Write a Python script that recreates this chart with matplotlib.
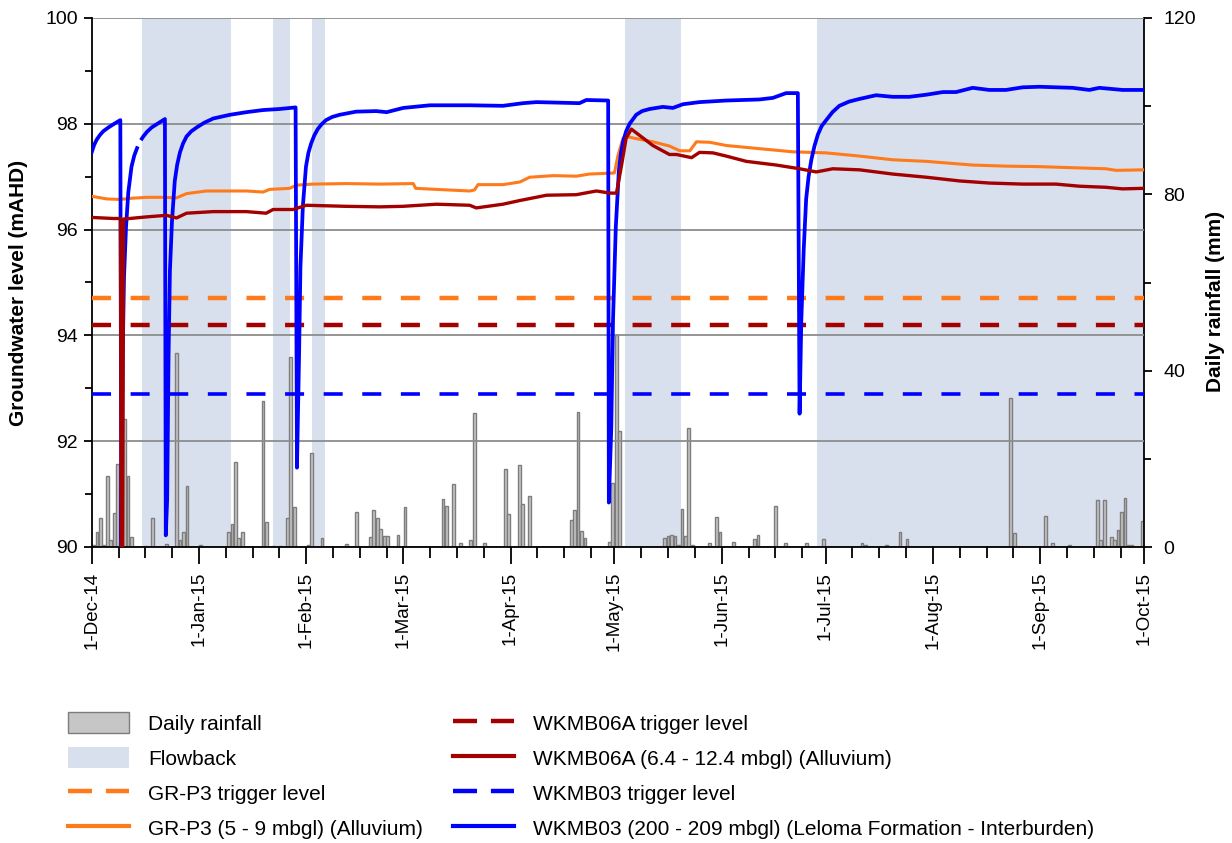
import numpy as np
import pandas as pd
import matplotlib
matplotlib.use("Agg")
import matplotlib.pyplot as plt
import matplotlib.dates as mdates
from matplotlib.ticker import MultipleLocator, FixedLocator
from matplotlib.patches import Patch
from matplotlib.lines import Line2D

plt.rcParams["font.family"] = ["Liberation Sans", "DejaVu Sans"]
plt.rcParams["lines.scale_dashes"] = False

# ---------------------------------------------------------------- data
start = pd.Timestamp("2014-12-01")
end = pd.Timestamp("2015-10-01")

month_starts = pd.date_range(start, end, freq="MS")
month_labels = ["1-Dec-14", "1-Jan-15", "1-Feb-15", "1-Mar-15", "1-Apr-15", "1-May-15",
                "1-Jun-15", "1-Jul-15", "1-Aug-15", "1-Sep-15", "1-Oct-15"]

# daily rainfall (day number from 1-Dec-14, mm)
rain_day = [0, 1, 2, 3, 4, 5, 6, 7, 8, 9, 10, 11,
            15, 17, 21, 24, 25, 26, 27, 31,
            39, 40, 41, 42, 43,
            49, 50, 52, 54, 56, 57, 58,
            62, 63, 66, 73, 76, 80, 81, 82, 83, 84, 85, 88, 90,
            101, 102, 104, 106, 109, 110, 113,
            119, 120, 123, 124, 126,
            138, 139, 140, 141, 142,
            149, 150, 151, 152,
            165, 166, 167, 168, 169, 170, 171, 172, 173,
            178, 180, 181, 185, 191, 192, 197, 200, 206, 211,
            222, 223, 229, 233, 235,
            265, 266, 275, 277, 282,
            290, 291, 292, 294, 295, 296, 297, 298, 299, 300, 303]
rain_mm = [0.4, 3.3, 6.5, 0.5, 16.0, 1.6, 7.7, 18.8, 20.0, 29.1, 16.2, 2.3,
           0.3, 6.5, 0.7, 43.9, 1.6, 3.3, 13.9, 0.5,
           3.3, 5.2, 19.2, 2.0, 3.3,
           33.2, 5.6, 0.2, 0.2, 6.5, 43.1, 9.0,
           0.5, 21.4, 2.1, 0.7, 8.0, 2.3, 8.5, 6.5, 4.0, 2.4, 2.6, 2.8, 9.1,
           11.0, 9.3, 14.2, 0.8, 1.6, 30.4, 0.8,
           17.6, 7.5, 18.7, 9.8, 11.5,
           6.1, 8.3, 30.7, 3.7, 2.0,
           1.2, 14.6, 48.0, 26.3,
           2.0, 2.4, 2.8, 2.5, 0.4, 8.7, 2.4, 27.0, 0.4,
           0.9, 6.7, 3.3, 1.1, 1.8, 2.8, 9.3, 0.8, 0.8, 1.8,
           1.0, 0.4, 0.4, 3.3, 1.8,
           33.8, 3.2, 7.0, 0.8, 0.5,
           10.7, 1.5, 10.7, 2.3, 1.5, 3.9, 7.9, 11.1, 0.5, 0.5, 6.0]

# flowback periods (day number from 1-Dec-14)
flowback_start = [14.4, 52.3, 63.5, 154.2, 209.4]
flowback_end = [40.1, 57.2, 67.4, 170.1, 304.0]

# trigger levels (mAHD)
grp3_trigger = 94.7
wkmb06a_trigger = 94.2
wkmb03_trigger = 92.9

# GR-P3 (5 - 9 mbgl) (Alluvium)
grp3_day = [0, 4.3, 8.2, 11.0, 15.8, 20.6, 24.5, 27.4, 33.1, 39.9, 44.7, 49.5, 51.4,
            57.2, 59.1, 63.9, 73.5, 83.2, 92.9, 93.6, 99.6, 109.2, 110.6, 111.6, 118.8,
            123.7, 126.5, 133.3, 140.0, 143.8, 151.0, 152.0, 153.5, 154.4, 157.3, 162.1,
            166.9, 169.9, 172.8, 174.7, 178.6, 183.3, 192.9, 202.6, 212.2, 221.8, 231.4,
            241.1, 250.7, 254.5, 264.1, 273.8, 283.4, 293.0, 295.9, 304.0]
grp3_level = [96.63, 96.58, 96.57, 96.59, 96.61, 96.61, 96.60, 96.68, 96.73, 96.73, 96.73,
              96.71, 96.76, 96.78, 96.84, 96.86, 96.87, 96.86, 96.87, 96.78, 96.76, 96.73,
              96.75, 96.85, 96.85, 96.90, 96.99, 97.02, 97.01, 97.05, 97.07, 97.39, 97.73,
              97.76, 97.72, 97.66, 97.58, 97.49, 97.49, 97.66, 97.65, 97.59, 97.53, 97.47,
              97.45, 97.39, 97.32, 97.29, 97.24, 97.22, 97.20, 97.19, 97.17, 97.15, 97.12,
              97.13]

# WKMB06A (6.4 - 12.4 mbgl) (Alluvium)
wkmb06a_day = [0, 6.3, 8.3, 8.55, 8.95, 9.2, 11.0, 15.8, 21.6, 24.5, 27.4, 35.1, 44.7,
               50.4, 52.4, 58.2, 62.0, 73.5, 83.2, 89.9, 99.6, 109.2, 111.1, 118.8, 123.7,
               131.4, 140.0, 145.8, 149.7, 151.6, 153.0, 154.4, 155.9, 157.3, 162.1, 166.9,
               168.9, 173.3, 175.6, 179.5, 183.3, 189.1, 197.8, 204.5, 209.3, 214.1, 221.8,
               231.4, 241.1, 250.7, 259.3, 269.0, 278.6, 285.4, 293.0, 297.8, 304.0]
wkmb06a_level = [96.23, 96.21, 96.21, 90.0, 90.0, 96.20, 96.21, 96.24, 96.27, 96.22, 96.31,
                 96.34, 96.34, 96.31, 96.38, 96.38, 96.46, 96.44, 96.43, 96.44, 96.48, 96.46,
                 96.41, 96.48, 96.55, 96.65, 96.66, 96.73, 96.69, 96.69, 97.19, 97.73, 97.90,
                 97.83, 97.59, 97.42, 97.42, 97.36, 97.46, 97.45, 97.39, 97.29, 97.22, 97.15,
                 97.09, 97.15, 97.13, 97.05, 96.99, 96.92, 96.88, 96.86, 96.86, 96.82, 96.80,
                 96.77, 96.78]

# WKMB03 (200 - 209 mbgl) (Leloma Formation - Interburden)
wkmb03_day = [0, 0.7, 1.44, 2.4, 3.36, 4.8, 6.25, 8.27, 8.56, 8.95, 9.33, 9.91, 10.58, 11.5,
              12.3, 13.1, 13.3, 14.5, 14.9, 16.0, 17.3, 19.7, 21.15, 21.4, 21.8, 22.2, 22.6,
              23.2, 24.0, 24.7, 25.5, 26.4, 27.4, 28.8, 30.3, 32.5, 35.1, 39.9, 44.7, 49.5,
              54.3, 58.9, 59.3, 59.9, 60.3, 61.0, 61.9, 62.6, 63.4, 64.3, 65.3, 66.4, 67.7,
              69.5, 71.6, 76.4, 82.2, 85.2, 90.0, 97.7, 109.2, 118.8, 124.6, 128.5, 140.9,
              142.9, 149.2, 149.4, 150.1, 150.6, 151.4, 152.3, 152.9, 153.5, 154.4, 155.4,
              157.3, 159.0, 161.2, 165.0, 167.9, 170.8, 175.6, 183.3, 192.9, 196.8, 200.6,
              204.0, 204.5, 205.0, 205.7, 206.4, 207.1, 207.9, 208.8, 209.8, 210.9, 212.2,
              214.0, 216.0, 218.8, 221.8, 226.6, 231.4, 236.2, 241.1, 245.9, 249.7, 254.5,
              259.3, 264.1, 269.0, 273.8, 283.4, 288.2, 291.1, 297.8, 304.0]
wkmb03_level = [97.46, 97.60, 97.70, 97.79, 97.86, 97.93, 97.99, 98.07, 90.02, 93.60, 95.09,
                96.04, 96.71, 97.19, 97.40, 97.54, np.nan, 97.72, 97.76, 97.85, 97.93, 98.03,
                98.09, 90.22, 90.90, 93.60, 95.23, 96.17, 96.92, 97.23, 97.46, 97.63, 97.76,
                97.86, 97.93, 98.02, 98.10, 98.17, 98.22, 98.26, 98.28, 98.31, 91.50, 93.60,
                95.29, 96.44, 97.19, 97.45, 97.63, 97.78, 97.90, 97.99, 98.07, 98.13, 98.17,
                98.23, 98.24, 98.22, 98.30, 98.35, 98.35, 98.34, 98.39, 98.41, 98.39, 98.45,
                98.44, 90.84, 92.25, 94.28, 96.04, 97.12, 97.45, 97.66, 97.86, 98.00, 98.17,
                98.24, 98.28, 98.32, 98.30, 98.37, 98.41, 98.44, 98.46, 98.49, 98.58, 98.58,
                92.52, 94.28, 95.63, 96.58, 97.00, 97.32, 97.58, 97.80, 97.96, 98.07, 98.22,
                98.34, 98.42, 98.47, 98.54, 98.51, 98.51, 98.55, 98.60, 98.60, 98.68, 98.64,
                98.64, 98.69, 98.70, 98.68, 98.64, 98.68, 98.64, 98.64]

# ---------------------------------------------------------------- styles
C_BLUE = "#0000ff"
C_ORANGE = "#ff7a1a"
C_RED = "#a30000"
C_FLOW = "#d8dfed"
C_RAIN = "#c6c6c6"
C_RAIN_EDGE = "#7d7d7d"
C_GRID = "#8c8c8c"
DASH = (13.7, 14.1)

t0 = mdates.date2num(start)
t1 = mdates.date2num(end)


def to_x(days):
    return t0 + np.asarray(days, dtype=float)


fig = plt.figure(figsize=(12.32, 8.43), dpi=100)
L, R, T, B = 91.7, 1144.0, 18.0, 547.0
W, H = 1232.0, 843.0
ax = fig.add_axes([L / W, 1 - B / H, (R - L) / W, (B - T) / H])
axr = ax.twinx()
axr.set_zorder(1)
ax.set_zorder(2)
ax.patch.set_visible(False)
axr.patch.set_facecolor("white")

# rainfall axis (behind): flowback shading and daily bars
for s, e in zip(flowback_start, flowback_end):
    axr.axvspan(to_x(s), to_x(e), color=C_FLOW, lw=0, zorder=0)
axr.bar(to_x(rain_day) + 0.5, rain_mm, width=0.8, color=C_RAIN,
        edgecolor=C_RAIN_EDGE, linewidth=1.0, zorder=2)
axr.set_ylim(0, 120)
axr.set_xlim(t0, t1)

# groundwater axis (front)
ax.set_ylim(90, 100)
ax.set_xlim(t0, t1)
ax.set_axisbelow(True)
ax.yaxis.grid(True, which="major", color=C_GRID, lw=1.3)

ax.axhline(grp3_trigger, color=C_ORANGE, lw=3.2, dashes=DASH, zorder=3)
ax.axhline(wkmb06a_trigger, color=C_RED, lw=3.2, dashes=DASH, zorder=3)
ax.axhline(wkmb03_trigger, color=C_BLUE, lw=2.6, dashes=DASH, zorder=3)
ax.plot(to_x(grp3_day), grp3_level, color=C_ORANGE, lw=2.2, zorder=4)
ax.plot(to_x(wkmb03_day), wkmb03_level, color=C_BLUE, lw=2.7, zorder=5)
ax.plot(to_x(wkmb06a_day), wkmb06a_level, color=C_RED, lw=2.4, zorder=6)

# spines
for a in (ax, axr):
    a.spines["top"].set_visible(False)
ax.spines["right"].set_visible(False)
axr.spines["left"].set_visible(False)
axr.spines["bottom"].set_visible(False)
for sp in ("left", "bottom"):
    ax.spines[sp].set_color("black")
    ax.spines[sp].set_linewidth(1.3)
axr.spines["right"].set_color("black")
axr.spines["right"].set_linewidth(1.3)

# x ticks: month starts with labels, quarter-month minor ticks
ax.xaxis.set_major_locator(FixedLocator(mdates.date2num(month_starts)))
ax.set_xticklabels(month_labels, rotation=90, fontsize=13.5)
minor = []
for m in month_starts[:-1]:
    for off in (7.75, 15.5, 23.25):
        minor.append(mdates.date2num(m) + off)
ax.xaxis.set_minor_locator(FixedLocator(minor))
ax.tick_params(axis="x", which="major", direction="out", length=12, width=1.3, pad=6)
ax.tick_params(axis="x", which="minor", direction="out", length=8, width=1.3)
axr.tick_params(axis="x", which="both", bottom=False, labelbottom=False)

# left y ticks
ax.yaxis.set_major_locator(MultipleLocator(2))
ax.yaxis.set_minor_locator(MultipleLocator(1))
ax.tick_params(axis="y", which="major", direction="out", length=6, width=1.3,
               labelsize=14, pad=4)
ax.tick_params(axis="y", which="minor", direction="out", length=5, width=1.3)

# right y ticks
axr.yaxis.set_major_locator(MultipleLocator(40))
axr.yaxis.set_minor_locator(MultipleLocator(20))
axr.tick_params(axis="y", which="major", direction="out", length=6, width=1.3,
                labelsize=14, pad=8)
axr.tick_params(axis="y", which="minor", direction="out", length=5, width=1.3)

ax.set_ylabel("Groundwater level (mAHD)", fontsize=15, fontweight="bold")
ax.yaxis.set_label_coords((28 - L) / (R - L), 0.48)
axr.set_ylabel("Daily rainfall (mm)", fontsize=15, fontweight="bold")
axr.yaxis.set_label_coords((1206 - L) / (R - L), 0.465)

# legend in two columns
LEG_DASH = (17.3, 10.0)
handles1 = [
    Patch(facecolor=C_RAIN, edgecolor=C_RAIN_EDGE, linewidth=1.0),
    Patch(facecolor=C_FLOW, edgecolor="none"),
    Line2D([], [], color=C_ORANGE, lw=3.2, dashes=LEG_DASH),
    Line2D([], [], color=C_ORANGE, lw=3.0),
]
labels1 = ["Daily rainfall", "Flowback", "GR-P3 trigger level",
           "GR-P3 (5 - 9 mbgl) (Alluvium)"]
handles2 = [
    Line2D([], [], color=C_RED, lw=3.2, dashes=LEG_DASH),
    Line2D([], [], color=C_RED, lw=3.0),
    Line2D([], [], color=C_BLUE, lw=3.2, dashes=LEG_DASH),
    Line2D([], [], color=C_BLUE, lw=3.0),
]
labels2 = ["WKMB06A trigger level", "WKMB06A (6.4 - 12.4 mbgl) (Alluvium)",
           "WKMB03 trigger level",
           "WKMB03 (200 - 209 mbgl) (Leloma Formation - Interburden)"]

leg_kw = dict(frameon=False, fontsize=15, handlelength=2.95, handleheight=1.2,
              handletextpad=0.9, labelspacing=0.64, borderpad=0, borderaxespad=0,
              loc="upper left")
fig.legend(handles1, labels1, bbox_to_anchor=(68 / W, 1 - 712 / H), **leg_kw)
fig.legend(handles2, labels2, bbox_to_anchor=(453 / W, 1 - 712 / H), **leg_kw)

fig.savefig("out.png", dpi=100, facecolor="white")
